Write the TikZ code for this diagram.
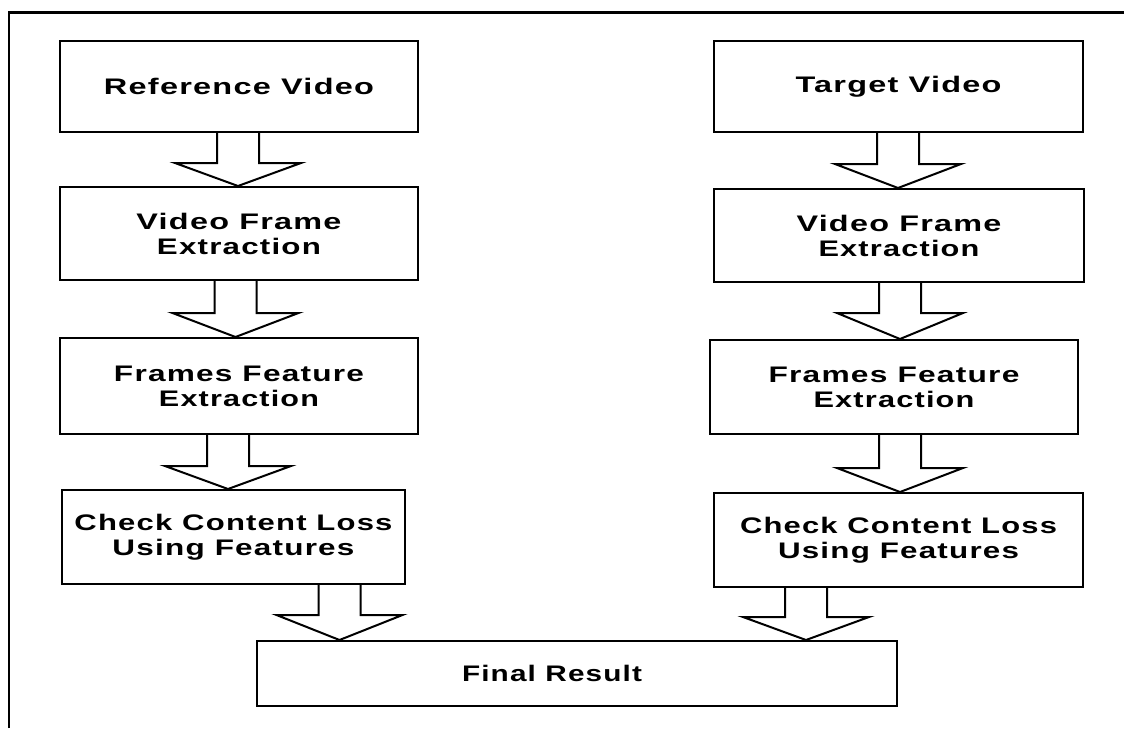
\documentclass[tikz,border=0pt]{standalone}
\usepackage{fontspec}
\usepackage{graphicx}
\newfontfamily\boxfont[FakeStretch=1.3,LetterSpace=5]{Liberation Sans}
\usetikzlibrary{calc}
\newcommand\fitw[2]{\resizebox{#1pt}{\height}{#2}}
\newcommand\barrow[4]{%
  \draw[arrowline] let \p1=(#1.south), \p2=(#2.north) in
    (#3-21,\y1) -- (#3-21,#4) -- (#3-63,#4) -- (#3,\y2) -- (#3+63,#4) -- (#3+21,#4) -- (#3+21,\y1);}
\begin{document}
\begin{tikzpicture}[x=1pt,y=-1pt,
  box/.style={draw, line width=2pt, inner sep=0pt, align=center,
    font=\boxfont\bfseries\fontsize{22.5}{25}\selectfont},
  arrowline/.style={draw, line width=2pt, line join=miter}]
\useasboundingbox (0,0) rectangle (1124,728);
% outer frame
\draw[line width=2.5pt] (9,728) -- (9,12.5) -- (1124,12.5);
% left column
\node[box, minimum width=358pt, minimum height=91pt] (L1) at (239,86.5) {\fitw{270}{Reference Video}};
\node[box, minimum width=358pt, minimum height=93pt] (L2) at (239,233.5) {\fitw{205}{Video Frame}\\\fitw{164}{Extraction}};
\node[box, minimum width=358pt, minimum height=96pt] (L3) at (239,386) {\fitw{250}{Frames Feature}\\\fitw{160}{Extraction}};
\node[box, minimum width=343pt, minimum height=94pt] (L4) at (233.5,537) {\fitw{318}{Check Content Loss}\\\fitw{242}{Using Features}};
% right column
\node[box, minimum width=369pt, minimum height=91pt] (R1) at (898.5,86.5) {\fitw{206}{Target Video}};
\node[box, minimum width=370pt, minimum height=93pt] (R2) at (899,235.5) {\fitw{205}{Video Frame}\\\fitw{161}{Extraction}};
\node[box, minimum width=368pt, minimum height=94pt] (R3) at (894,387) {\fitw{251}{Frames Feature}\\\fitw{161}{Extraction}};
\node[box, minimum width=369pt, minimum height=94pt] (R4) at (898.5,540) {\fitw{317}{Check Content Loss}\\\fitw{241}{Using Features}};
% final
\node[box, minimum width=640pt, minimum height=65pt] (F) at (577,673.5) {\fitw{180}{Final Result}\hspace{50pt}};
% block arrows
\barrow{L1}{L2}{238}{163}
\barrow{L2}{L3}{235.5}{313}
\barrow{L3}{L4}{228}{466}
\barrow{L4}{F}{339.5}{615}
\barrow{R1}{R2}{898}{164}
\barrow{R2}{R3}{900}{313}
\barrow{R3}{R4}{900}{468}
\barrow{R4}{F}{806}{617}
\end{tikzpicture}
\end{document}
